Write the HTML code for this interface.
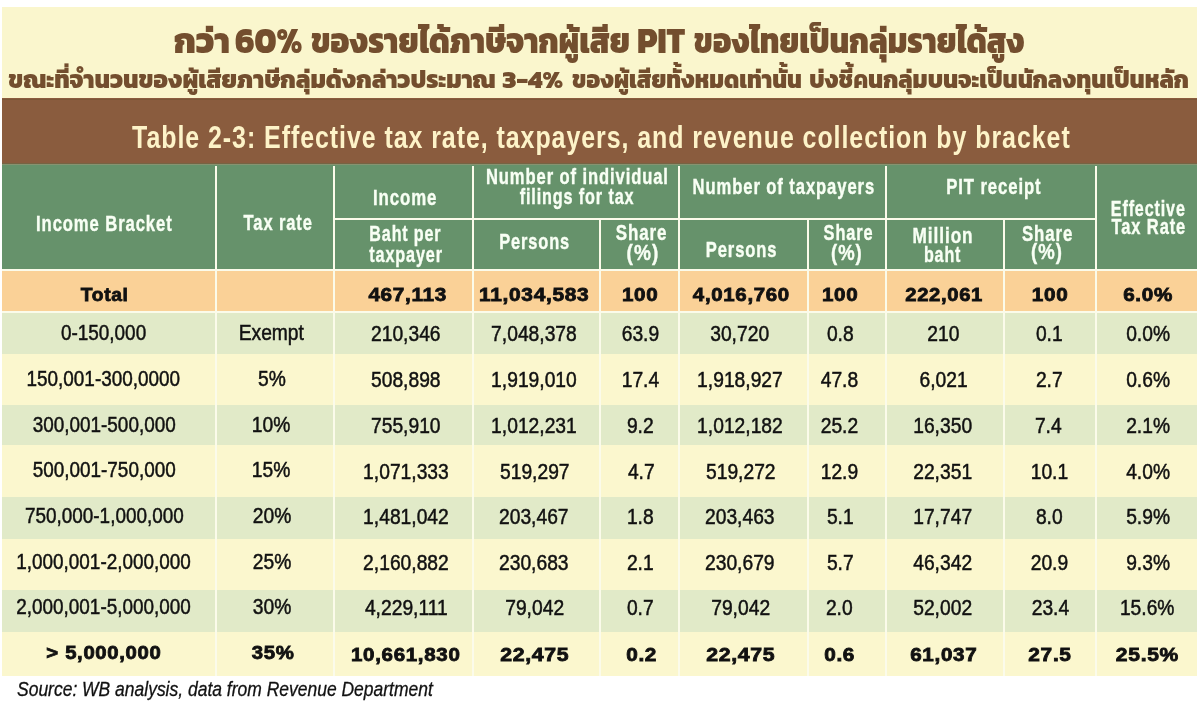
<!DOCTYPE html>
<html><head><meta charset="utf-8"><title>Table 2-3</title>
<style>
*{margin:0;padding:0;box-sizing:border-box}
html,body{width:1200px;height:704px;overflow:hidden;background:#ffffff}
body{position:relative}
.a{position:absolute}
.t{position:absolute;white-space:nowrap;text-align:center;width:1200px}
.t span{display:inline-block}
</style></head><body>
<div class="a" style="left:2px;top:7px;width:1195px;height:91px;background:#faf6cd"></div>
<div class="a" style="left:2px;top:98px;width:1195px;height:66px;background:#8a5c3e"></div>
<div class="a" style="left:2px;top:99px;width:1195px;height:1px;background:#7c5638"></div>
<div class="a" style="left:2px;top:164px;width:1195px;height:105px;background:#66926b"></div>
<div class="a" style="left:2px;top:163px;width:1195px;height:1px;background:#756443"></div>
<div class="a" style="left:2px;top:164px;width:1195px;height:1px;background:#879270"></div>
<div class="a" style="left:2px;top:269px;width:1195px;height:2px;background:#fbfbea"></div>
<div class="a" style="left:2px;top:271px;width:1195px;height:40px;background:#fad197"></div>
<div class="a" style="left:2px;top:313px;width:1195px;height:41px;background:#e1eac8"></div>
<div class="a" style="left:2px;top:354px;width:1195px;height:51px;background:#fbf7ce"></div>
<div class="a" style="left:2px;top:405px;width:1195px;height:40px;background:#e1eac8"></div>
<div class="a" style="left:2px;top:445px;width:1195px;height:52px;background:#fbf7ce"></div>
<div class="a" style="left:2px;top:497px;width:1195px;height:42px;background:#e1eac8"></div>
<div class="a" style="left:2px;top:539px;width:1195px;height:51px;background:#fbf7ce"></div>
<div class="a" style="left:2px;top:590px;width:1195px;height:42px;background:#e1eac8"></div>
<div class="a" style="left:2px;top:632px;width:1195px;height:44px;background:#fbf7ce"></div>
<div class="a" style="left:2px;top:311px;width:1195px;height:2px;background:#fbfbea"></div>
<div class="a" style="left:215px;top:166px;width:2px;height:510px;background:#fbfbea"></div>
<div class="a" style="left:333px;top:166px;width:2px;height:510px;background:#fbfbea"></div>
<div class="a" style="left:472px;top:166px;width:2px;height:510px;background:#fbfbea"></div>
<div class="a" style="left:599px;top:166px;width:2px;height:510px;background:#fbfbea"></div>
<div class="a" style="left:678px;top:166px;width:2px;height:510px;background:#fbfbea"></div>
<div class="a" style="left:807px;top:166px;width:2px;height:510px;background:#fbfbea"></div>
<div class="a" style="left:885px;top:166px;width:2px;height:510px;background:#fbfbea"></div>
<div class="a" style="left:1003px;top:166px;width:2px;height:510px;background:#fbfbea"></div>
<div class="a" style="left:1095px;top:166px;width:2px;height:510px;background:#fbfbea"></div>
<div class="a" style="left:333px;top:218px;width:764px;height:2px;background:#fbfbea"></div>
<div class="a" style="left:599px;top:165px;width:2px;height:53px;background:#66926b"></div>
<div class="a" style="left:807px;top:165px;width:2px;height:53px;background:#66926b"></div>
<div class="a" style="left:1003px;top:165px;width:2px;height:53px;background:#66926b"></div>
<div class="t" id="h1" style='left:-495.90px;top:212.70px;font-family:"Liberation Sans",Arial,sans-serif;font-size:22px;line-height:22px;font-weight:700;color:#f8fff4'><span style="transform:scaleX(0.7556);letter-spacing:1.2px;-webkit-text-stroke:0.4px #f8fff4">Income Bracket</span></div>
<div class="t" id="h2" style='left:-321.40px;top:211.70px;font-family:"Liberation Sans",Arial,sans-serif;font-size:22px;line-height:22px;font-weight:700;color:#f8fff4'><span style="transform:scaleX(0.7489);letter-spacing:1.2px;-webkit-text-stroke:0.4px #f8fff4">Tax rate</span></div>
<div class="t" id="h3" style='left:-194.71px;top:187.20px;font-family:"Liberation Sans",Arial,sans-serif;font-size:22px;line-height:22px;font-weight:700;color:#f8fff4'><span style="transform:scaleX(0.7646);letter-spacing:1.2px;-webkit-text-stroke:0.4px #f8fff4">Income</span></div>
<div class="t" id="h4" style='left:-194.60px;top:222.95px;font-family:"Liberation Sans",Arial,sans-serif;font-size:22px;line-height:22px;font-weight:700;color:#f8fff4'><span style="transform:scaleX(0.7298);letter-spacing:1.2px;-webkit-text-stroke:0.4px #f8fff4">Baht per</span></div>
<div class="t" id="h5" style='left:-193.72px;top:243.50px;font-family:"Liberation Sans",Arial,sans-serif;font-size:22px;line-height:22px;font-weight:700;color:#f8fff4'><span style="transform:scaleX(0.7353);letter-spacing:1.2px;-webkit-text-stroke:0.4px #f8fff4">taxpayer</span></div>
<div class="t" id="h6" style='left:-22.83px;top:166.30px;font-family:"Liberation Sans",Arial,sans-serif;font-size:22px;line-height:22px;font-weight:700;color:#f8fff4'><span style="transform:scaleX(0.7534);letter-spacing:1.2px;-webkit-text-stroke:0.4px #f8fff4">Number of individual</span></div>
<div class="t" id="h7" style='left:-23.33px;top:186.30px;font-family:"Liberation Sans",Arial,sans-serif;font-size:22px;line-height:22px;font-weight:700;color:#f8fff4'><span style="transform:scaleX(0.7349);letter-spacing:1.2px;-webkit-text-stroke:0.4px #f8fff4">filings for tax</span></div>
<div class="t" id="h8" style='left:-65.73px;top:230.70px;font-family:"Liberation Sans",Arial,sans-serif;font-size:22px;line-height:22px;font-weight:700;color:#f8fff4'><span style="transform:scaleX(0.7441);letter-spacing:1.2px;-webkit-text-stroke:0.4px #f8fff4">Persons</span></div>
<div class="t" id="h9" style='left:41.82px;top:222.00px;font-family:"Liberation Sans",Arial,sans-serif;font-size:22px;line-height:22px;font-weight:700;color:#f8fff4'><span style="transform:scaleX(0.7702);letter-spacing:1.2px;-webkit-text-stroke:0.4px #f8fff4">Share</span></div>
<div class="t" id="h10" style='left:42.62px;top:241.70px;font-family:"Liberation Sans",Arial,sans-serif;font-size:22px;line-height:22px;font-weight:700;color:#f8fff4'><span style="transform:scaleX(0.8664);letter-spacing:1.2px;-webkit-text-stroke:0.4px #f8fff4">(%)</span></div>
<div class="t" id="h11" style='left:183.35px;top:175.80px;font-family:"Liberation Sans",Arial,sans-serif;font-size:22px;line-height:22px;font-weight:700;color:#f8fff4'><span style="transform:scaleX(0.7552);letter-spacing:1.2px;-webkit-text-stroke:0.4px #f8fff4">Number of taxpayers</span></div>
<div class="t" id="h12" style='left:142.00px;top:238.70px;font-family:"Liberation Sans",Arial,sans-serif;font-size:22px;line-height:22px;font-weight:700;color:#f8fff4'><span style="transform:scaleX(0.7525);letter-spacing:1.2px;-webkit-text-stroke:0.4px #f8fff4">Persons</span></div>
<div class="t" id="h13" style='left:248.22px;top:221.90px;font-family:"Liberation Sans",Arial,sans-serif;font-size:22px;line-height:22px;font-weight:700;color:#f8fff4'><span style="transform:scaleX(0.7433);letter-spacing:1.2px;-webkit-text-stroke:0.4px #f8fff4">Share</span></div>
<div class="t" id="h14" style='left:247.25px;top:241.90px;font-family:"Liberation Sans",Arial,sans-serif;font-size:22px;line-height:22px;font-weight:700;color:#f8fff4'><span style="transform:scaleX(0.8396);letter-spacing:1.2px;-webkit-text-stroke:0.4px #f8fff4">(%)</span></div>
<div class="t" id="h15" style='left:394.15px;top:176.30px;font-family:"Liberation Sans",Arial,sans-serif;font-size:22px;line-height:22px;font-weight:700;color:#f8fff4'><span style="transform:scaleX(0.7592);letter-spacing:1.2px;-webkit-text-stroke:0.4px #f8fff4">PIT receipt</span></div>
<div class="t" id="h16" style='left:342.62px;top:224.70px;font-family:"Liberation Sans",Arial,sans-serif;font-size:22px;line-height:22px;font-weight:700;color:#f8fff4'><span style="transform:scaleX(0.7824);letter-spacing:1.2px;-webkit-text-stroke:0.4px #f8fff4">Million</span></div>
<div class="t" id="h17" style='left:343.11px;top:243.90px;font-family:"Liberation Sans",Arial,sans-serif;font-size:22px;line-height:22px;font-weight:700;color:#f8fff4'><span style="transform:scaleX(0.7308);letter-spacing:1.2px;-webkit-text-stroke:0.4px #f8fff4">baht</span></div>
<div class="t" id="h18" style='left:447.83px;top:222.60px;font-family:"Liberation Sans",Arial,sans-serif;font-size:22px;line-height:22px;font-weight:700;color:#f8fff4'><span style="transform:scaleX(0.7651);letter-spacing:1.2px;-webkit-text-stroke:0.4px #f8fff4">Share</span></div>
<div class="t" id="h19" style='left:447.25px;top:241.30px;font-family:"Liberation Sans",Arial,sans-serif;font-size:22px;line-height:22px;font-weight:700;color:#f8fff4'><span style="transform:scaleX(0.8431);letter-spacing:1.2px;-webkit-text-stroke:0.4px #f8fff4">(%)</span></div>
<div class="t" id="h20" style='left:548.15px;top:197.70px;font-family:"Liberation Sans",Arial,sans-serif;font-size:22px;line-height:22px;font-weight:700;color:#f8fff4'><span style="transform:scaleX(0.7307);letter-spacing:1.2px;-webkit-text-stroke:0.4px #f8fff4">Effective</span></div>
<div class="t" id="h21" style='left:548.50px;top:216.40px;font-family:"Liberation Sans",Arial,sans-serif;font-size:22px;line-height:22px;font-weight:700;color:#f8fff4'><span style="transform:scaleX(0.7472);letter-spacing:1.2px;-webkit-text-stroke:0.4px #f8fff4">Tax Rate</span></div>
<div class="t" id="t1s0" style='left:-398.25px;top:21.80px;font-family:"Kanit","Liberation Sans","Noto Sans Thai",sans-serif;font-size:36.5px;line-height:36.5px;font-weight:800;color:#734e2e'><span style="transform:scaleX(0.9324)">กว่า</span></div>
<div class="t" id="t1s1" style='left:-331.75px;top:21.80px;font-family:"Kanit","Liberation Sans","Noto Sans Thai",sans-serif;font-size:36.5px;line-height:36.5px;font-weight:800;color:#734e2e'><span style="transform:scaleX(0.8938)">60%</span></div>
<div class="t" id="t1s2" style='left:-130.00px;top:21.80px;font-family:"Kanit","Liberation Sans","Noto Sans Thai",sans-serif;font-size:36.5px;line-height:36.5px;font-weight:800;color:#734e2e'><span style="transform:scaleX(0.8599)">ของรายได้ภาษีจากผู้เสีย</span></div>
<div class="t" id="t1s3" style='left:61.00px;top:21.80px;font-family:"Kanit","Liberation Sans","Noto Sans Thai",sans-serif;font-size:36.5px;line-height:36.5px;font-weight:800;color:#734e2e'><span style="transform:scaleX(0.8851)">PIT</span></div>
<div class="t" id="t1s4" style='left:259.00px;top:21.80px;font-family:"Kanit","Liberation Sans","Noto Sans Thai",sans-serif;font-size:36.5px;line-height:36.5px;font-weight:800;color:#734e2e'><span style="transform:scaleX(0.8388)">ของไทยเป็นกลุ่มรายได้สูง</span></div>
<div class="t" id="t2s0" style='left:-347.70px;top:67.60px;font-family:"Kanit","Liberation Sans","Noto Sans Thai",sans-serif;font-size:24.6px;line-height:24.6px;font-weight:800;color:#734e2e'><span style="transform:scaleX(0.9786)">ขณะที่จำนวนของผู้เสียภาษีกลุ่มดังกล่าวประมาณ</span></div>
<div class="t" id="t2s1" style='left:-67.50px;top:67.60px;font-family:"Kanit","Liberation Sans","Noto Sans Thai",sans-serif;font-size:24.6px;line-height:24.6px;font-weight:800;color:#734e2e'><span style="transform:scaleX(1.0590)">3-4%</span></div>
<div class="t" id="t2s2" style='left:87.00px;top:67.60px;font-family:"Kanit","Liberation Sans","Noto Sans Thai",sans-serif;font-size:24.6px;line-height:24.6px;font-weight:800;color:#734e2e'><span style="transform:scaleX(0.9348)">ของผู้เสียทั้งหมดเท่านั้น</span></div>
<div class="t" id="t2s3" style='left:399.50px;top:67.60px;font-family:"Kanit","Liberation Sans","Noto Sans Thai",sans-serif;font-size:24.6px;line-height:24.6px;font-weight:800;color:#734e2e'><span style="transform:scaleX(0.9540)">บ่งชี้คนกลุ่มบนจะเป็นนักลงทุนเป็นหลัก</span></div>
<div class="t" id="band" style='left:-0.50px;top:121.00px;font-family:"Liberation Sans",Arial,sans-serif;font-size:32px;line-height:32px;font-weight:700;color:#fdf3c8'><span style="transform:scaleX(0.7803);letter-spacing:1.2px">Table 2-3: Effective tax rate, taxpayers, and revenue collection by bracket</span></div>
<div class="t" id="src" style='left:-375.50px;top:679.20px;font-family:"Liberation Sans",Arial,sans-serif;font-size:20px;line-height:20px;font-weight:400;color:#111111;font-style:italic'><span style="transform:scaleX(0.8739);-webkit-text-stroke:0.3px #111111">Source: WB analysis, data from Revenue Department</span></div>
<div class="t" id="r0c0" style='left:-495.70px;top:285.56px;font-family:"Liberation Sans",Arial,sans-serif;font-size:18.3px;line-height:18.3px;font-weight:700;color:#111111'><span style="transform:scaleX(1.0513);letter-spacing:0.6px;-webkit-text-stroke:0.8px #111111">Total</span></div>
<div class="t" id="r0c2" style='left:-192.60px;top:285.56px;font-family:"Liberation Sans",Arial,sans-serif;font-size:18.3px;line-height:18.3px;font-weight:700;color:#111111'><span style="transform:scaleX(1.1326);letter-spacing:0.6px;-webkit-text-stroke:0.8px #111111">467,113</span></div>
<div class="t" id="r0c3" style='left:-65.40px;top:285.56px;font-family:"Liberation Sans",Arial,sans-serif;font-size:18.3px;line-height:18.3px;font-weight:700;color:#111111'><span style="transform:scaleX(1.1438);letter-spacing:0.6px;-webkit-text-stroke:0.8px #111111">11,034,583</span></div>
<div class="t" id="r0c4" style='left:40.50px;top:285.56px;font-family:"Liberation Sans",Arial,sans-serif;font-size:18.3px;line-height:18.3px;font-weight:700;color:#111111'><span style="transform:scaleX(1.1262);letter-spacing:0.6px;-webkit-text-stroke:0.8px #111111">100</span></div>
<div class="t" id="r0c5" style='left:141.00px;top:285.56px;font-family:"Liberation Sans",Arial,sans-serif;font-size:18.3px;line-height:18.3px;font-weight:700;color:#111111'><span style="transform:scaleX(1.1183);letter-spacing:0.6px;-webkit-text-stroke:0.8px #111111">4,016,760</span></div>
<div class="t" id="r0c6" style='left:240.10px;top:285.56px;font-family:"Liberation Sans",Arial,sans-serif;font-size:18.3px;line-height:18.3px;font-weight:700;color:#111111'><span style="transform:scaleX(1.1262);letter-spacing:0.6px;-webkit-text-stroke:0.8px #111111">100</span></div>
<div class="t" id="r0c7" style='left:343.70px;top:285.56px;font-family:"Liberation Sans",Arial,sans-serif;font-size:18.3px;line-height:18.3px;font-weight:700;color:#111111'><span style="transform:scaleX(1.1051);letter-spacing:0.6px;-webkit-text-stroke:0.8px #111111">222,061</span></div>
<div class="t" id="r0c8" style='left:450.40px;top:285.56px;font-family:"Liberation Sans",Arial,sans-serif;font-size:18.3px;line-height:18.3px;font-weight:700;color:#111111'><span style="transform:scaleX(1.1319);letter-spacing:0.6px;-webkit-text-stroke:0.8px #111111">100</span></div>
<div class="t" id="r0c9" style='left:547.90px;top:285.56px;font-family:"Liberation Sans",Arial,sans-serif;font-size:18.3px;line-height:18.3px;font-weight:700;color:#111111'><span style="transform:scaleX(1.1291);letter-spacing:0.6px;-webkit-text-stroke:0.8px #111111">6.0%</span></div>
<div class="t" id="r1c0" style='left:-496.60px;top:322.40px;font-family:"Liberation Sans",Arial,sans-serif;font-size:22px;line-height:22px;font-weight:400;color:#111111'><span style="transform:scaleX(0.8600);-webkit-text-stroke:0.5px #111111">0-150,000</span></div>
<div class="t" id="r1c1" style='left:-329.00px;top:322.40px;font-family:"Liberation Sans",Arial,sans-serif;font-size:22px;line-height:22px;font-weight:400;color:#111111'><span style="transform:scaleX(0.8750);-webkit-text-stroke:0.5px #111111">Exempt</span></div>
<div class="t" id="r1c2" style='left:-193.80px;top:323.20px;font-family:"Liberation Sans",Arial,sans-serif;font-size:22px;line-height:22px;font-weight:400;color:#111111'><span style="transform:scaleX(0.8750);-webkit-text-stroke:0.5px #111111">210,346</span></div>
<div class="t" id="r1c3" style='left:-66.20px;top:323.20px;font-family:"Liberation Sans",Arial,sans-serif;font-size:22px;line-height:22px;font-weight:400;color:#111111'><span style="transform:scaleX(0.8750);-webkit-text-stroke:0.5px #111111">7,048,378</span></div>
<div class="t" id="r1c4" style='left:40.50px;top:323.20px;font-family:"Liberation Sans",Arial,sans-serif;font-size:22px;line-height:22px;font-weight:400;color:#111111'><span style="transform:scaleX(0.8750);-webkit-text-stroke:0.5px #111111">63.9</span></div>
<div class="t" id="r1c5" style='left:140.00px;top:323.20px;font-family:"Liberation Sans",Arial,sans-serif;font-size:22px;line-height:22px;font-weight:400;color:#111111'><span style="transform:scaleX(0.8750);-webkit-text-stroke:0.5px #111111">30,720</span></div>
<div class="t" id="r1c6" style='left:240.30px;top:323.20px;font-family:"Liberation Sans",Arial,sans-serif;font-size:22px;line-height:22px;font-weight:400;color:#111111'><span style="transform:scaleX(0.8750);-webkit-text-stroke:0.5px #111111">0.8</span></div>
<div class="t" id="r1c7" style='left:343.10px;top:323.20px;font-family:"Liberation Sans",Arial,sans-serif;font-size:22px;line-height:22px;font-weight:400;color:#111111'><span style="transform:scaleX(0.8750);-webkit-text-stroke:0.5px #111111">210</span></div>
<div class="t" id="r1c8" style='left:449.70px;top:323.20px;font-family:"Liberation Sans",Arial,sans-serif;font-size:22px;line-height:22px;font-weight:400;color:#111111'><span style="transform:scaleX(0.8750);-webkit-text-stroke:0.5px #111111">0.1</span></div>
<div class="t" id="r1c9" style='left:547.70px;top:323.20px;font-family:"Liberation Sans",Arial,sans-serif;font-size:22px;line-height:22px;font-weight:400;color:#111111'><span style="transform:scaleX(0.8750);-webkit-text-stroke:0.5px #111111">0.0%</span></div>
<div class="t" id="r2c0" style='left:-497.10px;top:367.60px;font-family:"Liberation Sans",Arial,sans-serif;font-size:22px;line-height:22px;font-weight:400;color:#111111'><span style="transform:scaleX(0.8600);-webkit-text-stroke:0.5px #111111">150,001-300,0000</span></div>
<div class="t" id="r2c1" style='left:-328.00px;top:367.60px;font-family:"Liberation Sans",Arial,sans-serif;font-size:22px;line-height:22px;font-weight:400;color:#111111'><span style="transform:scaleX(0.8750);-webkit-text-stroke:0.5px #111111">5%</span></div>
<div class="t" id="r2c2" style='left:-193.80px;top:369.40px;font-family:"Liberation Sans",Arial,sans-serif;font-size:22px;line-height:22px;font-weight:400;color:#111111'><span style="transform:scaleX(0.8750);-webkit-text-stroke:0.5px #111111">508,898</span></div>
<div class="t" id="r2c3" style='left:-66.20px;top:369.40px;font-family:"Liberation Sans",Arial,sans-serif;font-size:22px;line-height:22px;font-weight:400;color:#111111'><span style="transform:scaleX(0.8750);-webkit-text-stroke:0.5px #111111">1,919,010</span></div>
<div class="t" id="r2c4" style='left:40.00px;top:369.40px;font-family:"Liberation Sans",Arial,sans-serif;font-size:22px;line-height:22px;font-weight:400;color:#111111'><span style="transform:scaleX(0.8750);-webkit-text-stroke:0.5px #111111">17.4</span></div>
<div class="t" id="r2c5" style='left:140.00px;top:369.40px;font-family:"Liberation Sans",Arial,sans-serif;font-size:22px;line-height:22px;font-weight:400;color:#111111'><span style="transform:scaleX(0.8750);-webkit-text-stroke:0.5px #111111">1,918,927</span></div>
<div class="t" id="r2c6" style='left:239.80px;top:369.40px;font-family:"Liberation Sans",Arial,sans-serif;font-size:22px;line-height:22px;font-weight:400;color:#111111'><span style="transform:scaleX(0.8750);-webkit-text-stroke:0.5px #111111">47.8</span></div>
<div class="t" id="r2c7" style='left:343.10px;top:369.40px;font-family:"Liberation Sans",Arial,sans-serif;font-size:22px;line-height:22px;font-weight:400;color:#111111'><span style="transform:scaleX(0.8750);-webkit-text-stroke:0.5px #111111">6,021</span></div>
<div class="t" id="r2c8" style='left:449.70px;top:369.40px;font-family:"Liberation Sans",Arial,sans-serif;font-size:22px;line-height:22px;font-weight:400;color:#111111'><span style="transform:scaleX(0.8750);-webkit-text-stroke:0.5px #111111">2.7</span></div>
<div class="t" id="r2c9" style='left:547.70px;top:369.40px;font-family:"Liberation Sans",Arial,sans-serif;font-size:22px;line-height:22px;font-weight:400;color:#111111'><span style="transform:scaleX(0.8750);-webkit-text-stroke:0.5px #111111">0.6%</span></div>
<div class="t" id="r3c0" style='left:-496.10px;top:413.80px;font-family:"Liberation Sans",Arial,sans-serif;font-size:22px;line-height:22px;font-weight:400;color:#111111'><span style="transform:scaleX(0.8600);-webkit-text-stroke:0.5px #111111">300,001-500,000</span></div>
<div class="t" id="r3c1" style='left:-328.50px;top:413.80px;font-family:"Liberation Sans",Arial,sans-serif;font-size:22px;line-height:22px;font-weight:400;color:#111111'><span style="transform:scaleX(0.8750);-webkit-text-stroke:0.5px #111111">10%</span></div>
<div class="t" id="r3c2" style='left:-193.80px;top:414.60px;font-family:"Liberation Sans",Arial,sans-serif;font-size:22px;line-height:22px;font-weight:400;color:#111111'><span style="transform:scaleX(0.8750);-webkit-text-stroke:0.5px #111111">755,910</span></div>
<div class="t" id="r3c3" style='left:-66.20px;top:414.60px;font-family:"Liberation Sans",Arial,sans-serif;font-size:22px;line-height:22px;font-weight:400;color:#111111'><span style="transform:scaleX(0.8750);-webkit-text-stroke:0.5px #111111">1,012,231</span></div>
<div class="t" id="r3c4" style='left:40.50px;top:414.60px;font-family:"Liberation Sans",Arial,sans-serif;font-size:22px;line-height:22px;font-weight:400;color:#111111'><span style="transform:scaleX(0.8750);-webkit-text-stroke:0.5px #111111">9.2</span></div>
<div class="t" id="r3c5" style='left:140.00px;top:414.60px;font-family:"Liberation Sans",Arial,sans-serif;font-size:22px;line-height:22px;font-weight:400;color:#111111'><span style="transform:scaleX(0.8750);-webkit-text-stroke:0.5px #111111">1,012,182</span></div>
<div class="t" id="r3c6" style='left:239.30px;top:414.60px;font-family:"Liberation Sans",Arial,sans-serif;font-size:22px;line-height:22px;font-weight:400;color:#111111'><span style="transform:scaleX(0.8750);-webkit-text-stroke:0.5px #111111">25.2</span></div>
<div class="t" id="r3c7" style='left:343.10px;top:414.60px;font-family:"Liberation Sans",Arial,sans-serif;font-size:22px;line-height:22px;font-weight:400;color:#111111'><span style="transform:scaleX(0.8750);-webkit-text-stroke:0.5px #111111">16,350</span></div>
<div class="t" id="r3c8" style='left:448.70px;top:414.60px;font-family:"Liberation Sans",Arial,sans-serif;font-size:22px;line-height:22px;font-weight:400;color:#111111'><span style="transform:scaleX(0.8750);-webkit-text-stroke:0.5px #111111">7.4</span></div>
<div class="t" id="r3c9" style='left:547.70px;top:414.60px;font-family:"Liberation Sans",Arial,sans-serif;font-size:22px;line-height:22px;font-weight:400;color:#111111'><span style="transform:scaleX(0.8750);-webkit-text-stroke:0.5px #111111">2.1%</span></div>
<div class="t" id="r4c0" style='left:-496.10px;top:458.80px;font-family:"Liberation Sans",Arial,sans-serif;font-size:22px;line-height:22px;font-weight:400;color:#111111'><span style="transform:scaleX(0.8600);-webkit-text-stroke:0.5px #111111">500,001-750,000</span></div>
<div class="t" id="r4c1" style='left:-328.50px;top:458.80px;font-family:"Liberation Sans",Arial,sans-serif;font-size:22px;line-height:22px;font-weight:400;color:#111111'><span style="transform:scaleX(0.8750);-webkit-text-stroke:0.5px #111111">15%</span></div>
<div class="t" id="r4c2" style='left:-193.80px;top:460.60px;font-family:"Liberation Sans",Arial,sans-serif;font-size:22px;line-height:22px;font-weight:400;color:#111111'><span style="transform:scaleX(0.8750);-webkit-text-stroke:0.5px #111111">1,071,333</span></div>
<div class="t" id="r4c3" style='left:-65.20px;top:460.60px;font-family:"Liberation Sans",Arial,sans-serif;font-size:22px;line-height:22px;font-weight:400;color:#111111'><span style="transform:scaleX(0.8750);-webkit-text-stroke:0.5px #111111">519,297</span></div>
<div class="t" id="r4c4" style='left:41.00px;top:460.60px;font-family:"Liberation Sans",Arial,sans-serif;font-size:22px;line-height:22px;font-weight:400;color:#111111'><span style="transform:scaleX(0.8750);-webkit-text-stroke:0.5px #111111">4.7</span></div>
<div class="t" id="r4c5" style='left:141.00px;top:460.60px;font-family:"Liberation Sans",Arial,sans-serif;font-size:22px;line-height:22px;font-weight:400;color:#111111'><span style="transform:scaleX(0.8750);-webkit-text-stroke:0.5px #111111">519,272</span></div>
<div class="t" id="r4c6" style='left:239.30px;top:460.60px;font-family:"Liberation Sans",Arial,sans-serif;font-size:22px;line-height:22px;font-weight:400;color:#111111'><span style="transform:scaleX(0.8750);-webkit-text-stroke:0.5px #111111">12.9</span></div>
<div class="t" id="r4c7" style='left:343.10px;top:460.60px;font-family:"Liberation Sans",Arial,sans-serif;font-size:22px;line-height:22px;font-weight:400;color:#111111'><span style="transform:scaleX(0.8750);-webkit-text-stroke:0.5px #111111">22,351</span></div>
<div class="t" id="r4c8" style='left:449.70px;top:460.60px;font-family:"Liberation Sans",Arial,sans-serif;font-size:22px;line-height:22px;font-weight:400;color:#111111'><span style="transform:scaleX(0.8750);-webkit-text-stroke:0.5px #111111">10.1</span></div>
<div class="t" id="r4c9" style='left:547.70px;top:460.60px;font-family:"Liberation Sans",Arial,sans-serif;font-size:22px;line-height:22px;font-weight:400;color:#111111'><span style="transform:scaleX(0.8750);-webkit-text-stroke:0.5px #111111">4.0%</span></div>
<div class="t" id="r5c0" style='left:-496.10px;top:504.60px;font-family:"Liberation Sans",Arial,sans-serif;font-size:22px;line-height:22px;font-weight:400;color:#111111'><span style="transform:scaleX(0.8600);-webkit-text-stroke:0.5px #111111">750,000-1,000,000</span></div>
<div class="t" id="r5c1" style='left:-327.50px;top:504.60px;font-family:"Liberation Sans",Arial,sans-serif;font-size:22px;line-height:22px;font-weight:400;color:#111111'><span style="transform:scaleX(0.8750);-webkit-text-stroke:0.5px #111111">20%</span></div>
<div class="t" id="r5c2" style='left:-193.80px;top:506.40px;font-family:"Liberation Sans",Arial,sans-serif;font-size:22px;line-height:22px;font-weight:400;color:#111111'><span style="transform:scaleX(0.8750);-webkit-text-stroke:0.5px #111111">1,481,042</span></div>
<div class="t" id="r5c3" style='left:-66.20px;top:506.40px;font-family:"Liberation Sans",Arial,sans-serif;font-size:22px;line-height:22px;font-weight:400;color:#111111'><span style="transform:scaleX(0.8750);-webkit-text-stroke:0.5px #111111">203,467</span></div>
<div class="t" id="r5c4" style='left:40.50px;top:506.40px;font-family:"Liberation Sans",Arial,sans-serif;font-size:22px;line-height:22px;font-weight:400;color:#111111'><span style="transform:scaleX(0.8750);-webkit-text-stroke:0.5px #111111">1.8</span></div>
<div class="t" id="r5c5" style='left:140.00px;top:506.40px;font-family:"Liberation Sans",Arial,sans-serif;font-size:22px;line-height:22px;font-weight:400;color:#111111'><span style="transform:scaleX(0.8750);-webkit-text-stroke:0.5px #111111">203,463</span></div>
<div class="t" id="r5c6" style='left:240.30px;top:506.40px;font-family:"Liberation Sans",Arial,sans-serif;font-size:22px;line-height:22px;font-weight:400;color:#111111'><span style="transform:scaleX(0.8750);-webkit-text-stroke:0.5px #111111">5.1</span></div>
<div class="t" id="r5c7" style='left:342.60px;top:506.40px;font-family:"Liberation Sans",Arial,sans-serif;font-size:22px;line-height:22px;font-weight:400;color:#111111'><span style="transform:scaleX(0.8750);-webkit-text-stroke:0.5px #111111">17,747</span></div>
<div class="t" id="r5c8" style='left:449.70px;top:506.40px;font-family:"Liberation Sans",Arial,sans-serif;font-size:22px;line-height:22px;font-weight:400;color:#111111'><span style="transform:scaleX(0.8750);-webkit-text-stroke:0.5px #111111">8.0</span></div>
<div class="t" id="r5c9" style='left:547.70px;top:506.40px;font-family:"Liberation Sans",Arial,sans-serif;font-size:22px;line-height:22px;font-weight:400;color:#111111'><span style="transform:scaleX(0.8750);-webkit-text-stroke:0.5px #111111">5.9%</span></div>
<div class="t" id="r6c0" style='left:-496.10px;top:550.80px;font-family:"Liberation Sans",Arial,sans-serif;font-size:22px;line-height:22px;font-weight:400;color:#111111'><span style="transform:scaleX(0.8600);-webkit-text-stroke:0.5px #111111">1,000,001-2,000,000</span></div>
<div class="t" id="r6c1" style='left:-327.50px;top:550.80px;font-family:"Liberation Sans",Arial,sans-serif;font-size:22px;line-height:22px;font-weight:400;color:#111111'><span style="transform:scaleX(0.8750);-webkit-text-stroke:0.5px #111111">25%</span></div>
<div class="t" id="r6c2" style='left:-193.80px;top:551.60px;font-family:"Liberation Sans",Arial,sans-serif;font-size:22px;line-height:22px;font-weight:400;color:#111111'><span style="transform:scaleX(0.8750);-webkit-text-stroke:0.5px #111111">2,160,882</span></div>
<div class="t" id="r6c3" style='left:-66.20px;top:551.60px;font-family:"Liberation Sans",Arial,sans-serif;font-size:22px;line-height:22px;font-weight:400;color:#111111'><span style="transform:scaleX(0.8750);-webkit-text-stroke:0.5px #111111">230,683</span></div>
<div class="t" id="r6c4" style='left:40.50px;top:551.60px;font-family:"Liberation Sans",Arial,sans-serif;font-size:22px;line-height:22px;font-weight:400;color:#111111'><span style="transform:scaleX(0.8750);-webkit-text-stroke:0.5px #111111">2.1</span></div>
<div class="t" id="r6c5" style='left:140.00px;top:551.60px;font-family:"Liberation Sans",Arial,sans-serif;font-size:22px;line-height:22px;font-weight:400;color:#111111'><span style="transform:scaleX(0.8750);-webkit-text-stroke:0.5px #111111">230,679</span></div>
<div class="t" id="r6c6" style='left:240.30px;top:551.60px;font-family:"Liberation Sans",Arial,sans-serif;font-size:22px;line-height:22px;font-weight:400;color:#111111'><span style="transform:scaleX(0.8750);-webkit-text-stroke:0.5px #111111">5.7</span></div>
<div class="t" id="r6c7" style='left:343.10px;top:551.60px;font-family:"Liberation Sans",Arial,sans-serif;font-size:22px;line-height:22px;font-weight:400;color:#111111'><span style="transform:scaleX(0.8750);-webkit-text-stroke:0.5px #111111">46,342</span></div>
<div class="t" id="r6c8" style='left:449.70px;top:551.60px;font-family:"Liberation Sans",Arial,sans-serif;font-size:22px;line-height:22px;font-weight:400;color:#111111'><span style="transform:scaleX(0.8750);-webkit-text-stroke:0.5px #111111">20.9</span></div>
<div class="t" id="r6c9" style='left:547.70px;top:551.60px;font-family:"Liberation Sans",Arial,sans-serif;font-size:22px;line-height:22px;font-weight:400;color:#111111'><span style="transform:scaleX(0.8750);-webkit-text-stroke:0.5px #111111">9.3%</span></div>
<div class="t" id="r7c0" style='left:-496.60px;top:596.20px;font-family:"Liberation Sans",Arial,sans-serif;font-size:22px;line-height:22px;font-weight:400;color:#111111'><span style="transform:scaleX(0.8600);-webkit-text-stroke:0.5px #111111">2,000,001-5,000,000</span></div>
<div class="t" id="r7c1" style='left:-327.50px;top:596.20px;font-family:"Liberation Sans",Arial,sans-serif;font-size:22px;line-height:22px;font-weight:400;color:#111111'><span style="transform:scaleX(0.8750);-webkit-text-stroke:0.5px #111111">30%</span></div>
<div class="t" id="r7c2" style='left:-193.80px;top:597.00px;font-family:"Liberation Sans",Arial,sans-serif;font-size:22px;line-height:22px;font-weight:400;color:#111111'><span style="transform:scaleX(0.8750);-webkit-text-stroke:0.5px #111111">4,229,111</span></div>
<div class="t" id="r7c3" style='left:-65.70px;top:597.00px;font-family:"Liberation Sans",Arial,sans-serif;font-size:22px;line-height:22px;font-weight:400;color:#111111'><span style="transform:scaleX(0.8750);-webkit-text-stroke:0.5px #111111">79,042</span></div>
<div class="t" id="r7c4" style='left:40.50px;top:597.00px;font-family:"Liberation Sans",Arial,sans-serif;font-size:22px;line-height:22px;font-weight:400;color:#111111'><span style="transform:scaleX(0.8750);-webkit-text-stroke:0.5px #111111">0.7</span></div>
<div class="t" id="r7c5" style='left:140.50px;top:597.00px;font-family:"Liberation Sans",Arial,sans-serif;font-size:22px;line-height:22px;font-weight:400;color:#111111'><span style="transform:scaleX(0.8750);-webkit-text-stroke:0.5px #111111">79,042</span></div>
<div class="t" id="r7c6" style='left:239.30px;top:597.00px;font-family:"Liberation Sans",Arial,sans-serif;font-size:22px;line-height:22px;font-weight:400;color:#111111'><span style="transform:scaleX(0.8750);-webkit-text-stroke:0.5px #111111">2.0</span></div>
<div class="t" id="r7c7" style='left:343.10px;top:597.00px;font-family:"Liberation Sans",Arial,sans-serif;font-size:22px;line-height:22px;font-weight:400;color:#111111'><span style="transform:scaleX(0.8750);-webkit-text-stroke:0.5px #111111">52,002</span></div>
<div class="t" id="r7c8" style='left:450.20px;top:597.00px;font-family:"Liberation Sans",Arial,sans-serif;font-size:22px;line-height:22px;font-weight:400;color:#111111'><span style="transform:scaleX(0.8750);-webkit-text-stroke:0.5px #111111">23.4</span></div>
<div class="t" id="r7c9" style='left:547.70px;top:597.00px;font-family:"Liberation Sans",Arial,sans-serif;font-size:22px;line-height:22px;font-weight:400;color:#111111'><span style="transform:scaleX(0.8750);-webkit-text-stroke:0.5px #111111">15.6%</span></div>
<div class="t" id="r8c0" style='left:-495.70px;top:644.16px;font-family:"Liberation Sans",Arial,sans-serif;font-size:18.3px;line-height:18.3px;font-weight:700;color:#111111'><span style="transform:scaleX(1.1097);letter-spacing:0.6px;-webkit-text-stroke:0.8px #111111">&gt; 5,000,000</span></div>
<div class="t" id="r8c1" style='left:-327.00px;top:644.16px;font-family:"Liberation Sans",Arial,sans-serif;font-size:18.3px;line-height:18.3px;font-weight:700;color:#111111'><span style="transform:scaleX(1.1142);letter-spacing:0.6px;-webkit-text-stroke:0.8px #111111">35%</span></div>
<div class="t" id="r8c2" style='left:-194.10px;top:646.36px;font-family:"Liberation Sans",Arial,sans-serif;font-size:18.3px;line-height:18.3px;font-weight:700;color:#111111'><span style="transform:scaleX(1.1224);letter-spacing:0.6px;-webkit-text-stroke:0.8px #111111">10,661,830</span></div>
<div class="t" id="r8c3" style='left:-65.40px;top:646.36px;font-family:"Liberation Sans",Arial,sans-serif;font-size:18.3px;line-height:18.3px;font-weight:700;color:#111111'><span style="transform:scaleX(1.1621);letter-spacing:0.6px;-webkit-text-stroke:0.8px #111111">22,475</span></div>
<div class="t" id="r8c4" style='left:41.50px;top:646.36px;font-family:"Liberation Sans",Arial,sans-serif;font-size:18.3px;line-height:18.3px;font-weight:700;color:#111111'><span style="transform:scaleX(1.1344);letter-spacing:0.6px;-webkit-text-stroke:0.8px #111111">0.2</span></div>
<div class="t" id="r8c5" style='left:140.50px;top:646.36px;font-family:"Liberation Sans",Arial,sans-serif;font-size:18.3px;line-height:18.3px;font-weight:700;color:#111111'><span style="transform:scaleX(1.1621);letter-spacing:0.6px;-webkit-text-stroke:0.8px #111111">22,475</span></div>
<div class="t" id="r8c6" style='left:240.10px;top:646.36px;font-family:"Liberation Sans",Arial,sans-serif;font-size:18.3px;line-height:18.3px;font-weight:700;color:#111111'><span style="transform:scaleX(1.1344);letter-spacing:0.6px;-webkit-text-stroke:0.8px #111111">0.6</span></div>
<div class="t" id="r8c7" style='left:344.20px;top:646.36px;font-family:"Liberation Sans",Arial,sans-serif;font-size:18.3px;line-height:18.3px;font-weight:700;color:#111111'><span style="transform:scaleX(1.1284);letter-spacing:0.6px;-webkit-text-stroke:0.8px #111111">61,037</span></div>
<div class="t" id="r8c8" style='left:449.90px;top:646.36px;font-family:"Liberation Sans",Arial,sans-serif;font-size:18.3px;line-height:18.3px;font-weight:700;color:#111111'><span style="transform:scaleX(1.1402);letter-spacing:0.6px;-webkit-text-stroke:0.8px #111111">27.5</span></div>
<div class="t" id="r8c9" style='left:547.90px;top:646.36px;font-family:"Liberation Sans",Arial,sans-serif;font-size:18.3px;line-height:18.3px;font-weight:700;color:#111111'><span style="transform:scaleX(1.1516);letter-spacing:0.6px;-webkit-text-stroke:0.8px #111111">25.5%</span></div>
</body></html>
